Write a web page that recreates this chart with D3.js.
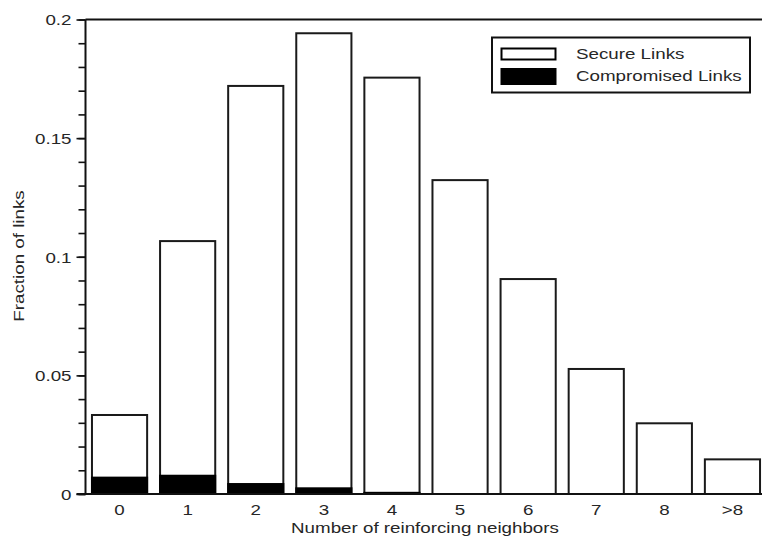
<!DOCTYPE html>
<html>
<head>
<meta charset="utf-8">
<script src="https://cdn.jsdelivr.net/npm/d3@7"></script>
<style>
  body { margin: 0; background: #fff; }
  svg { display: block; }
  text { font-family: 'Liberation Sans', Arial, sans-serif; fill: #262626; }
</style>
</head>
<body>
<script>
var categories = ['0', '1', '2', '3', '4', '5', '6', '7', '8', '>8']
var secureLinks = [0.0333, 0.1066, 0.172, 0.1942, 0.1755, 0.1323, 0.0906, 0.0527, 0.0298, 0.0146]
var compromisedLinks = [0.0069, 0.0077, 0.0042, 0.0024, 0.0005, 0, 0, 0, 0, 0]
var majorTicks = [0, 0.05, 0.1, 0.15, 0.2]
var minorTicks = d3.range(0, 0.2001, 0.01)
var legendLabels = ['Secure Links', 'Compromised Links']

var width = 762, height = 543
var stretch = 1.25 // the glyphs in the original are wide

var svg = d3.select('body').append('svg').
  attr('width', width).
  attr('height', height)

var x = d3.scaleBand().
  domain(categories).
  range([85.5, 766.5]).
  paddingInner(0.19).
  paddingOuter(0.095)

var y = d3.scaleLinear().
  domain([0, 0.2]).
  range([494, 19.5])

function widen (sel) {
  sel.each(function () {
    var len = this.getComputedTextLength()
    d3.select(this).attr('textLength', len * stretch).
      attr('lengthAdjust', 'spacingAndGlyphs')
  })
}

// bars: secure part first (full height), compromised drawn on top
var bars = svg.append('g')
bars.selectAll('rect.secure').
  data(categories).
  enter().
  append('rect').
  attr('class', 'secure').
  attr('x', function (d) { return x(d) }).
  attr('width', x.bandwidth()).
  attr('y', function (d, i) { return y(secureLinks[i]) }).
  attr('height', function (d, i) { return y(0) - y(secureLinks[i]) }).
  attr('fill', '#fff').
  attr('stroke', '#1a1a1a').
  attr('stroke-width', 2)

bars.selectAll('rect.comp').
  data(categories.filter(function (d, i) { return compromisedLinks[i] > 0 })).
  enter().
  append('rect').
  attr('class', 'comp').
  attr('x', function (d) { return x(d) }).
  attr('width', x.bandwidth()).
  attr('y', function (d) { return y(compromisedLinks[categories.indexOf(d)]) }).
  attr('height', function (d) { return y(0) - y(compromisedLinks[categories.indexOf(d)]) }).
  attr('fill', '#000').
  attr('stroke', '#000').
  attr('stroke-width', 2)

// y axis with minor ticks
var yMinor = d3.axisLeft(y).tickValues(minorTicks).tickSize(7).tickFormat('')
svg.append('g').
  attr('transform', 'translate(85.5,0)').
  call(yMinor).
  call(function (g) { g.select('.domain').remove() }).
  selectAll('line').attr('stroke', '#111').attr('stroke-width', 1.6)

var yAxis = d3.axisLeft(y).tickValues(majorTicks).tickSize(9).tickPadding(5).
  tickFormat(function (d) { return d === 0 ? '0' : String(+d.toFixed(2)) })
var yg = svg.append('g').
  attr('transform', 'translate(85.5,0)').
  call(yAxis)
yg.select('.domain').attr('stroke', '#111').attr('stroke-width', 2).
  attr('d', 'M0,' + y(0) + 'V' + y(0.2))
yg.selectAll('line').attr('stroke', '#111').attr('stroke-width', 1.6)
yg.selectAll('text').
  attr('font-size', 15).
  attr('fill', '#262626').
  attr('dy', '0.36em').
  call(widen)

// top frame line and bottom axis line
svg.append('line').
  attr('x1', 85.5).attr('x2', width).
  attr('y1', y(0.2)).attr('y2', y(0.2)).
  attr('stroke', '#111').attr('stroke-width', 2)
svg.append('line').
  attr('x1', 76.5).attr('x2', width).
  attr('y1', y(0)).attr('y2', y(0)).
  attr('stroke', '#111').attr('stroke-width', 2)

// x tick labels (no tick marks in the original)
var xAxis = d3.axisBottom(x).tickSize(0).tickPadding(10)
var xg = svg.append('g').
  attr('transform', 'translate(0,' + y(0) + ')').
  call(xAxis)
xg.select('.domain').remove()
xg.selectAll('text').
  attr('font-size', 15).
  attr('fill', '#262626').
  attr('dy', '0.71em').
  call(widen)

// axis titles
svg.append('text').
  attr('x', 425).
  attr('y', 533).
  attr('text-anchor', 'middle').
  attr('font-size', 15).
  text('Number of reinforcing neighbors').
  call(widen)

svg.append('text').
  attr('transform', 'translate(23.5,256) rotate(-90)').
  attr('text-anchor', 'middle').
  attr('font-size', 15).
  text('Fraction of links').
  call(widen)

// legend
var legend = svg.append('g')
legend.append('rect').
  attr('x', 492).attr('y', 37.5).
  attr('width', 258).attr('height', 55).
  attr('fill', '#fff').
  attr('stroke', '#111').attr('stroke-width', 2)

var swatches = [
  { fill: '#fff', y: 48.5, h: 11 },
  { fill: '#000', y: 69, h: 15 }
]
legend.selectAll('rect.sw').
  data(legendLabels).
  enter().
  append('rect').
  attr('class', 'sw').
  attr('x', 501.5).
  attr('width', 54).
  attr('y', function (d, i) { return swatches[i].y }).
  attr('height', function (d, i) { return swatches[i].h }).
  attr('fill', function (d, i) { return swatches[i].fill }).
  attr('stroke', '#000').
  attr('stroke-width', 2)

legend.selectAll('text').
  data(legendLabels).
  enter().
  append('text').
  attr('x', 576).
  attr('y', function (d, i) { return i === 0 ? 59 : 81 }).
  attr('font-size', 15).
  text(function (d) { return d }).
  call(widen)
</script>
</body>
</html>
